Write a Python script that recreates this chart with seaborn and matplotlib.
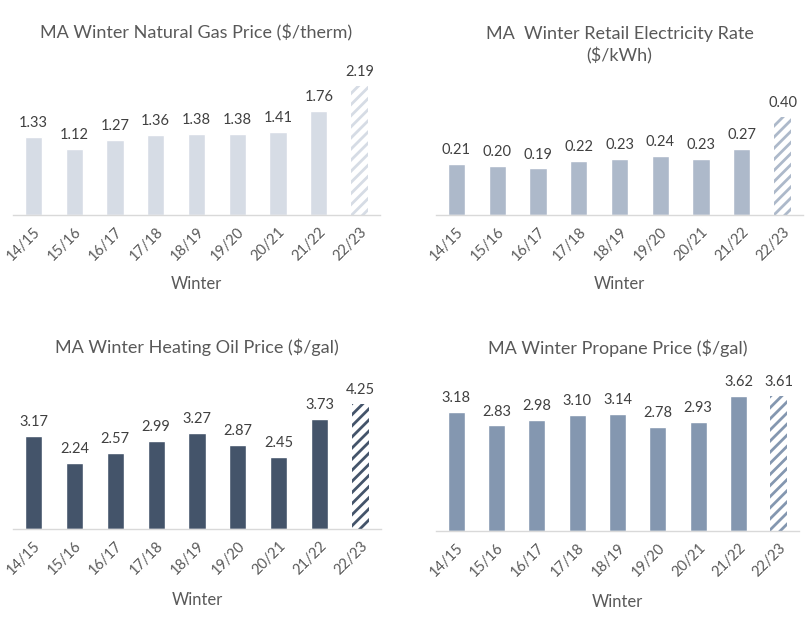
import numpy as np
import pandas as pd
import seaborn as sns
import matplotlib.pyplot as plt

# Data
winters = ["14/15", "15/16", "16/17", "17/18", "18/19", "19/20", "20/21", "21/22", "22/23"]
gas_price = [1.33, 1.12, 1.27, 1.36, 1.38, 1.38, 1.41, 1.76, 2.19]
elec_rate = [0.21, 0.20, 0.19, 0.22, 0.23, 0.24, 0.23, 0.27, 0.40]
oil_price = [3.17, 2.24, 2.57, 2.99, 3.27, 2.87, 2.45, 3.73, 4.25]
propane_price = [3.18, 2.83, 2.98, 3.10, 3.14, 2.78, 2.93, 3.62, 3.61]

titles = [
    "MA Winter Natural Gas Price ($/therm)",
    "MA  Winter Retail Electricity Rate\n($/kWh)",
    "MA Winter Heating Oil Price ($/gal)",
    "MA Winter Propane Price ($/gal)",
]
series = [gas_price, elec_rate, oil_price, propane_price]
colors = ["#D6DCE5", "#ADB9CA", "#44546A", "#8497B0"]

sns.set_theme(style="white")
plt.rcParams["font.family"] = ["Lato", "DejaVu Sans"]
plt.rcParams["hatch.linewidth"] = 2.0

W, H = 808, 623
fig = plt.figure(figsize=(W / 100, H / 100), dpi=100)

# panel boxes in pixels: left, top, right, bottom ; plus pixel height of tallest bar
boxes = [
    (13, 60, 380, 215, 129),
    (436, 60, 803, 215, 98),
    (13, 370, 381, 529, 125),
    (436, 370, 799, 531, 135),
]
title_y = [33, 45, 347, 348]
xlabel_y = [284, 284, 600, 602]
text_col = "#595959"

for i, (vals, title, col) in enumerate(zip(series, titles, colors)):
    l, t, r, b, hpx = boxes[i]
    ax = fig.add_axes([l / W, 1 - b / H, (r - l) / W, (b - t) / H])
    df = pd.DataFrame({"Winter": winters, "Value": vals})
    sns.barplot(data=df, x="Winter", y="Value", color=col, saturation=1,
                width=0.42, ax=ax)

    # last season is a projection -> hatched bar
    last = ax.patches[-1]
    last.set_facecolor("white")
    last.set_edgecolor(col)
    last.set_linewidth(0)
    last.set_hatch("///")

    ax.set_ylim(0, max(vals) * (b - t) / hpx)
    ax.set_xlim(-0.5, len(winters) - 0.5)
    ax.bar_label(ax.containers[0], fmt="%.2f", padding=5, fontsize=10.5, color="#404040")

    ax.set_ylabel("")
    ax.set_yticks([])
    for s in ["top", "left", "right"]:
        ax.spines[s].set_visible(False)
    ax.spines["bottom"].set_color("#D9D9D9")
    ax.spines["bottom"].set_linewidth(1)

    ax.tick_params(axis="x", length=0, pad=7, labelsize=10.5, labelcolor=text_col)
    for lab in ax.get_xticklabels():
        lab.set_rotation(45)
        lab.set_ha("right")
        lab.set_rotation_mode("anchor")

    ax.set_xlabel("Winter", fontsize=12, color=text_col)
    ax.xaxis.set_label_coords(0.5, -(xlabel_y[i] - b) / (b - t))
    ax.xaxis.label.set_va("center")

    fig.text((l + r) / 2 / W, 1 - title_y[i] / H, title, ha="center", va="center",
             fontsize=13, color=text_col, linespacing=1.4)

fig.savefig("out.png", dpi=100)
